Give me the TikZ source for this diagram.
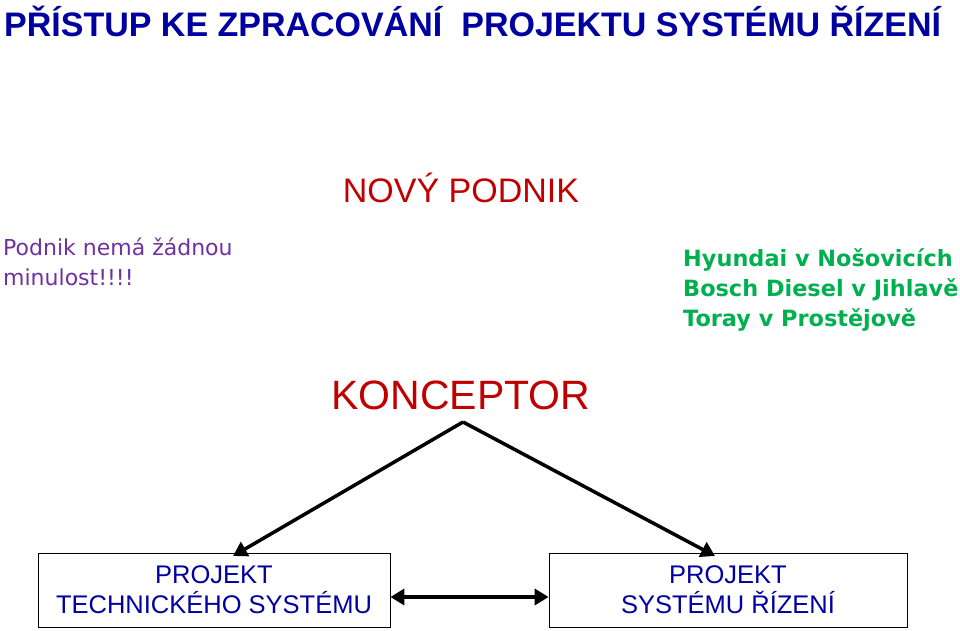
\documentclass[tikz,border=0pt]{standalone}
\usepackage{fontspec}
\setmainfont{Liberation Sans}
\newfontfamily\comic{DejaVu Sans}
\usetikzlibrary{arrows.meta}
\definecolor{tblue}{RGB}{0,0,160}
\definecolor{tred}{RGB}{192,0,0}
\definecolor{tpurple}{RGB}{112,48,160}
\definecolor{tgreen}{RGB}{0,176,80}
\begin{document}
\begin{tikzpicture}[x=1pt,y=-1pt,
  box/.style={draw,line width=0.8pt,minimum width=352pt,minimum height=74pt,align=center,text=tblue,font=\fontsize{25.5}{30}\selectfont},
  arr/.style={line width=3.5pt,-{Triangle[length=14pt,width=16pt]}}]
\useasboundingbox (0,0) rectangle (960,631);
\node[anchor=west,text=tblue,font=\fontsize{34}{38}\selectfont\bfseries,inner sep=0] (title) at (4,21) {PŘÍSTUP KE ZPRACOVÁNÍ\ \ PROJEKTU SYSTÉMU ŘÍZENÍ};
\node[text=tred,font=\fontsize{34}{38}\selectfont] (novy) at (461,188) {NOVÝ PODNIK};
\node[anchor=north west,text=tpurple,align=left,inner sep=0,font=\comic\fontsize{22}{30}\selectfont] (pod) at (3,238) {Podnik nemá žádnou\\minulost!!!!};
\node[anchor=north west,text=tgreen,align=left,inner sep=0,font=\comic\bfseries\fontsize{22.4}{30}\selectfont] (hy) at (683,248) {Hyundai v Nošovicích\\Bosch Diesel v Jihlavě\\Toray v Prostějově};
\node[text=tred,font=\fontsize{41}{45}\selectfont] (kon) at (461,395) {KONCEPTOR};
\node[box] (pt) at (214,590) {PROJEKT\\TECHNICKÉHO SYSTÉMU};
\node[box,minimum width=358pt] (ps) at (728,590) {PROJEKT\\SYSTÉMU ŘÍZENÍ};
\coordinate (top) at (463,422);
\draw[arr] (top) -- (233,556);
\draw[arr] (top) -- (715,556);
\draw[line width=3.5pt,{Triangle[length=14pt,width=16pt]}-{Triangle[length=14pt,width=16pt]}] (pt.east |- 0,597) -- (ps.west |- 0,597);
\end{tikzpicture}
\end{document}
